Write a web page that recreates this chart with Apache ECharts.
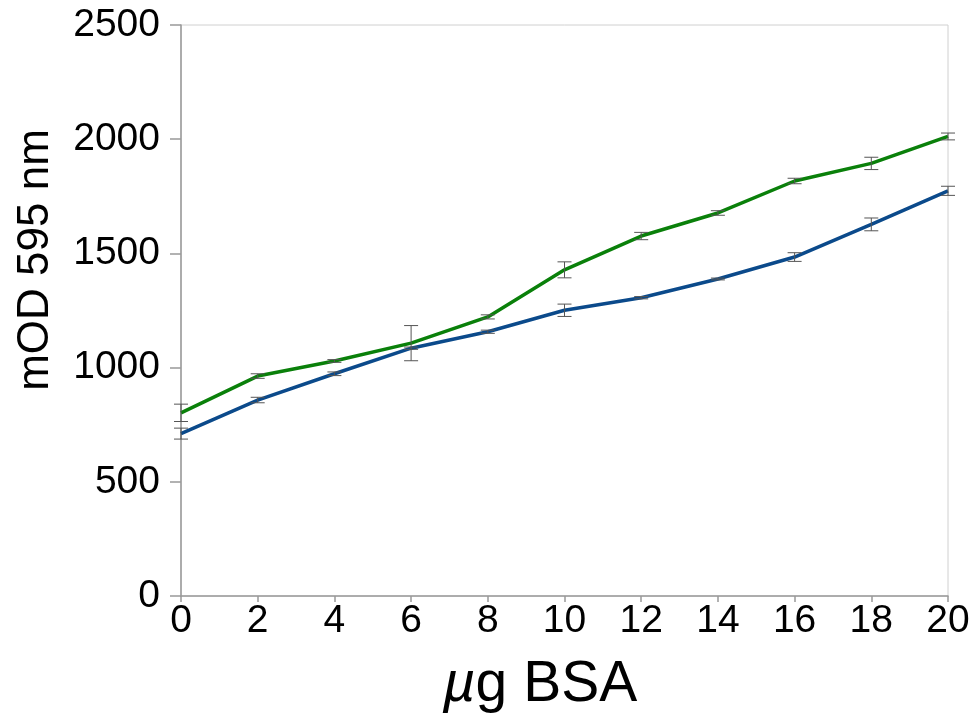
<!DOCTYPE html>
<html>
<head>
<meta charset="utf-8">
<script src="https://cdn.jsdelivr.net/npm/echarts@6/dist/echarts.min.js"></script>
<style>html,body{margin:0;padding:0;background:#fff;}#c{width:979px;height:719px;}</style>
</head>
<body>
<div id="c"></div>
<script>
const xValues = [0, 2, 4, 6, 8, 10, 12, 14, 16, 18, 20];
const greenValues = [802, 963, 1029, 1107, 1222, 1428, 1576, 1677, 1817, 1894, 2012];
const greenErrors = [38, 10, 6, 77, 9, 35, 16, 10, 12, 27, 15];
const blueValues = [711, 858, 973, 1085, 1157, 1251, 1306, 1388, 1484, 1627, 1774];
const blueErrors = [24, 12, 8, 5, 7, 27, 5, 4, 19, 28, 20];
const xTitle = '{i|µ}g BSA';
const yTitle = 'mOD 595 nm';

const chart = echarts.init(document.getElementById('c'));
const font = '"Liberation Sans", Arial, Helvetica, sans-serif';

function errData(vals, errs) {
  return xValues.map((x, i) => [x, vals[i] - errs[i], vals[i] + errs[i]]);
}
function errRender(params, api) {
  const x = api.value(0);
  const lo = api.coord([x, api.value(1)]);
  const hi = api.coord([x, api.value(2)]);
  const hw = 7;
  const style = { stroke: '#555', lineWidth: 1 };
  return {
    type: 'group',
    children: [
      { type: 'line', shape: { x1: lo[0], y1: lo[1], x2: hi[0], y2: hi[1] }, style },
      { type: 'line', shape: { x1: lo[0] - hw, y1: lo[1], x2: lo[0] + hw, y2: lo[1] }, style },
      { type: 'line', shape: { x1: hi[0] - hw, y1: hi[1], x2: hi[0] + hw, y2: hi[1] }, style }
    ]
  };
}

chart.setOption({
  animation: false,
  backgroundColor: '#fff',
  grid: { left: 181, right: 31, top: 25, bottom: 123, show: true, borderColor: '#d0d0d0', borderWidth: 1 },
  graphic: [
    {
      type: 'text', x: 540, y: 714,
      style: {
        text: xTitle, fontFamily: font, fontSize: 57, fill: '#000',
        align: 'center', verticalAlign: 'bottom',
        rich: { i: { fontFamily: font, fontSize: 57, fontStyle: 'italic', fill: '#000' } }
      }
    },
    {
      type: 'text', x: 58, y: 260, rotation: Math.PI / 2,
      style: {
        text: yTitle, fontFamily: font, fontSize: 44, fill: '#000',
        align: 'center', verticalAlign: 'bottom'
      }
    }
  ],
  xAxis: {
    type: 'value', min: 0, max: 20, interval: 2,
    axisLine: { show: true, lineStyle: { color: '#999', width: 1.5 } },
    axisTick: { show: true, length: 6, lineStyle: { color: '#999', width: 1.5 } },
    axisLabel: { fontFamily: font, fontSize: 39, color: '#000', margin: 6, formatter: v => String(v) },
    splitLine: { show: false }
  },
  yAxis: {
    type: 'value', min: 0, max: 2500, interval: 500,
    axisLine: { show: true, lineStyle: { color: '#999', width: 1.5 } },
    axisTick: { show: true, length: 11, lineStyle: { color: '#999', width: 1.5 } },
    axisLabel: { fontFamily: font, fontSize: 39, color: '#000', margin: 21, formatter: v => String(v) },
    splitLine: { show: false }
  },
  series: [
    {
      type: 'line', data: xValues.map((x, i) => [x, blueValues[i]]),
      showSymbol: false, lineStyle: { color: '#0b4a8b', width: 3.5 }, z: 2
    },
    {
      type: 'line', data: xValues.map((x, i) => [x, greenValues[i]]),
      showSymbol: false, lineStyle: { color: '#0a800a', width: 3.5 }, z: 2
    },
    { type: 'custom', renderItem: errRender, data: errData(blueValues, blueErrors), encode: { x: 0, y: [1, 2] }, z: 3 },
    { type: 'custom', renderItem: errRender, data: errData(greenValues, greenErrors), encode: { x: 0, y: [1, 2] }, z: 3 }
  ]
});
</script>
</body>
</html>
